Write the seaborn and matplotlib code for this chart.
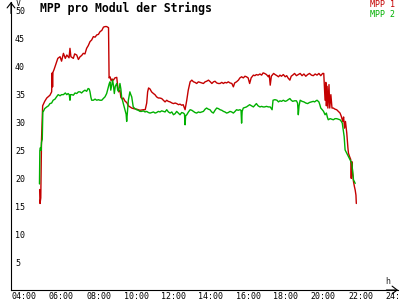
import matplotlib
matplotlib.use("Agg")
import matplotlib.pyplot as plt
import matplotlib.transforms as mtransforms
import seaborn as sns
import pandas as pd

# ---------------- data ----------------
red_h = [5.28, 5.30, 5.34, 5.38, 5.44, 5.55, 5.66, 5.83, 5.92, 5.95, 5.97, 5.99, 6.05, 6.16, 6.25,
         6.37, 6.45, 6.55, 6.65, 6.73, 6.85, 6.90, 6.95, 7.08, 7.15, 7.26, 7.35, 7.44, 7.52, 7.61,
         7.70, 7.79, 7.88, 7.97, 8.06, 8.15, 8.24, 8.33, 8.42, 8.51, 8.60, 8.69, 8.78, 8.86, 8.96,
         8.99, 9.04, 9.10, 9.15, 9.22, 9.30, 9.40, 9.45, 9.50, 9.57, 9.62, 9.70, 9.75, 9.85, 9.93,
         10.02, 10.11, 10.20, 10.30, 10.46, 10.64, 10.82, 10.92, 11.00, 11.05, 11.10, 11.18, 11.26,
         11.36, 11.44, 11.53, 11.62, 11.70, 11.80, 11.89, 11.98, 12.07, 12.15, 12.25, 12.35, 12.43,
         12.52, 12.60, 12.70, 12.78, 12.87, 12.95, 13.05, 13.10, 13.14, 13.22, 13.32, 13.41, 13.50,
         13.58, 13.67, 13.76, 13.85, 13.94, 14.03, 14.12, 14.20, 14.30, 14.40, 14.48, 14.57, 14.65,
         14.74, 14.83, 14.92, 15.01, 15.10, 15.18, 15.27, 15.36, 15.45, 15.55, 15.63, 15.70, 15.80,
         15.90, 15.98, 16.07, 16.16, 16.25, 16.33, 16.42, 16.50, 16.58, 16.70, 16.78, 16.86, 16.95,
         17.05, 17.14, 17.22, 17.30, 17.40, 17.50, 17.55, 17.60, 17.66, 17.78, 17.86, 17.96, 18.04,
         18.12, 18.20, 18.30, 18.40, 18.48, 18.55, 18.65, 18.72, 18.80, 18.90, 19.00, 19.10, 19.20,
         19.30, 19.40, 19.50, 19.60, 19.70, 19.80, 19.90, 20.00, 20.10, 20.20, 20.30, 20.40, 20.46,
         20.50, 20.53, 20.57, 20.60, 20.64, 20.68, 20.74, 20.78, 20.84, 20.90, 20.97, 21.06, 21.15,
         21.24, 21.33, 21.40, 21.47, 21.52, 21.57, 21.62, 21.69, 21.75, 21.78, 21.84, 21.90, 21.93,
         21.96, 22.00, 22.05, 22.10, 22.14, 22.18, 22.20]
red_v = [18.0, 15.5, 16.5, 27.0, 33.0, 33.8, 34.4, 34.9, 35.5, 38.9, 36.4, 39.0, 39.5, 40.6, 41.5,
         41.8, 41.0, 42.4, 41.5, 42.1, 41.6, 43.3, 41.8, 41.5, 42.3, 42.1, 41.3, 41.8, 42.0, 42.4,
         42.3, 43.3, 43.8, 44.5, 44.8, 45.4, 45.3, 45.7, 45.8, 46.3, 46.5, 47.1, 47.2, 47.2, 47.0,
         38.0, 38.2, 37.5, 37.8, 37.6, 38.0, 38.1, 36.5, 35.5, 35.8, 34.5, 34.2, 34.4, 33.8, 33.6,
         33.0, 32.8, 32.6, 32.5, 32.4, 32.2, 32.3, 32.3, 33.5, 35.5, 36.2, 36.0, 35.5,
         35.2, 35.0, 34.6, 34.4, 34.4, 34.3, 34.0, 33.7, 34.0, 33.8, 33.7, 33.5, 33.4,
         33.5, 33.4, 33.2, 33.3, 33.1, 33.2, 32.3, 33.2, 34.0, 35.8, 37.3, 37.6, 37.3,
         37.2, 37.0, 37.3, 37.2, 37.1, 37.0, 37.3, 37.4, 37.6, 37.3, 37.0, 37.3, 37.4,
         37.1, 37.0, 37.0, 37.2, 37.0, 37.2, 37.1, 37.3, 37.1, 37.0, 36.4, 37.1, 37.3,
         37.6, 38.0, 38.2, 38.0, 38.3, 38.2, 38.0, 37.0, 38.0, 38.5, 38.4, 38.6, 38.5,
         38.7, 38.5, 38.9, 38.8, 38.6, 38.2, 38.5, 36.7, 38.3, 38.8, 38.6, 38.4, 38.2,
         38.5, 38.3, 38.6, 38.2, 38.4, 38.0, 37.6, 38.3, 38.5, 38.8, 38.4, 38.6, 38.8,
         38.4, 38.7, 38.3, 38.6, 38.8, 38.5, 38.4, 38.7, 38.5, 38.8, 38.4, 38.8, 38.8,
         36.0, 34.0, 37.2, 33.0, 36.5, 32.6, 36.8, 32.6, 35.0, 32.6, 32.6, 32.4, 32.3,
         32.0, 31.7, 31.1, 30.2, 31.0, 29.0, 30.2, 28.1, 25.5, 24.5, 23.9, 23.4, 20.0,
         23.0, 21.0, 19.4, 18.5, 17.9, 17.0, 15.5]

green_h = [5.27, 5.29, 5.32, 5.35, 5.38, 5.42, 5.45, 5.48, 5.55, 5.66, 5.75, 5.83, 5.92, 6.00, 6.10,
           6.18, 6.27, 6.37, 6.45, 6.55, 6.65, 6.73, 6.80, 6.86, 6.90, 6.93, 7.00, 7.08, 7.17, 7.26,
           7.35, 7.44, 7.52, 7.61, 7.70, 7.79, 7.87, 7.93, 7.97, 8.02, 8.06, 8.15, 8.24, 8.33, 8.42,
           8.50, 8.60, 8.68, 8.77, 8.86, 8.95, 9.00, 9.04, 9.08, 9.13, 9.18, 9.22, 9.27, 9.32, 9.40,
           9.45, 9.50, 9.57, 9.62, 9.66, 9.75, 9.84, 9.90, 9.93, 9.97, 10.02, 10.10, 10.15, 10.20,
           10.28, 10.37, 10.46, 10.55, 10.64, 10.73, 10.82, 10.91, 11.00, 11.09, 11.18, 11.27, 11.36,
           11.45, 11.53, 11.62, 11.71, 11.80, 11.89, 11.98, 12.07, 12.16, 12.25, 12.34, 12.43, 12.52,
           12.60, 12.69, 12.78, 12.87, 12.96, 13.02, 13.05, 13.08, 13.14, 13.23, 13.32, 13.41, 13.50,
           13.58, 13.67, 13.76, 13.85, 13.94, 14.03, 14.12, 14.20, 14.29, 14.38, 14.47, 14.56, 14.65,
           14.74, 14.83, 14.92, 15.01, 15.10, 15.18, 15.27, 15.36, 15.45, 15.54, 15.63, 15.72, 15.80,
           15.89, 15.98, 16.04, 16.07, 16.10, 16.16, 16.24, 16.33, 16.42, 16.50, 16.60, 16.70, 16.78,
           16.86, 16.95, 17.05, 17.14, 17.22, 17.30, 17.40, 17.50, 17.60, 17.70, 17.75, 17.85, 17.96,
           18.04, 18.12, 18.20, 18.30, 18.40, 18.48, 18.56, 18.65, 18.72, 18.80, 18.90, 19.00, 19.06,
           19.10, 19.14, 19.20, 19.30, 19.40, 19.50, 19.60, 19.70, 19.80, 19.90, 19.97, 20.05, 20.10,
           20.20, 20.25, 20.30, 20.38, 20.45, 20.53, 20.60, 20.65, 20.70, 20.80, 20.88, 20.97, 21.06,
           21.15, 21.24, 21.33, 21.40, 21.45, 21.50, 21.55, 21.60, 21.69, 21.78, 21.87, 21.96, 22.01,
           22.05, 22.10, 22.14]
green_v = [19.0, 25.0, 25.5, 25.0, 26.5, 27.0, 32.0, 32.0, 32.5, 32.8, 33.0, 33.4, 33.5, 34.0, 34.2,
           34.6, 35.0, 34.8, 35.0, 35.0, 35.3, 35.0, 35.2, 35.0, 34.0, 35.0, 35.0, 34.9, 35.3, 35.2,
           35.5, 35.5, 35.3, 35.6, 35.8, 35.6, 36.1, 36.0, 35.5, 34.5, 34.0, 34.0, 34.2, 34.0, 34.1,
           34.0, 34.0, 34.3, 34.6, 35.2, 36.4, 37.0, 37.3, 35.8, 36.7, 37.6, 36.7, 35.2, 36.5, 37.0,
           35.8, 35.6, 37.0, 36.0, 34.6, 33.4, 32.3, 31.5, 30.2, 32.0, 34.0, 35.5, 35.0, 34.6,
           32.8, 32.5, 32.3, 32.2, 32.0, 32.0, 32.1, 31.9, 32.0, 31.8, 31.7, 31.8, 31.9,
           31.7, 31.8, 32.0, 31.9, 32.1, 32.0, 31.9, 32.3, 31.9, 31.7, 31.9, 31.4, 31.6,
           32.0, 31.7, 31.4, 31.8, 31.7, 31.5, 29.6, 31.2, 31.4, 31.9, 32.3, 32.2, 32.0,
           31.8, 31.7, 31.9, 31.8, 31.9, 32.0, 32.4, 32.6, 32.4, 32.3, 31.9, 31.7, 32.2,
           32.6, 32.5, 32.3, 32.2, 32.0, 31.9, 31.7, 31.8, 32.0, 31.9, 31.7, 32.0, 32.3,
           32.2, 32.3, 32.2, 29.9, 32.0, 32.6, 32.7, 32.8, 33.0, 33.2, 33.0, 32.8, 33.1,
           33.4, 33.0, 32.8, 32.9, 32.8, 32.8, 32.9, 32.8, 32.8, 32.3, 34.0, 34.1, 34.0,
           33.7, 33.9, 33.8, 34.0, 33.8, 33.9, 34.1, 34.3, 34.0, 33.8, 33.9, 33.9, 33.5,
           31.4, 33.0, 34.0, 33.8, 33.7, 33.5, 33.4, 33.6, 33.7, 33.8, 33.7, 33.9, 34.0,
           33.7, 33.2, 32.6, 32.3, 32.0, 31.4, 31.7, 31.0, 30.5, 30.7, 30.6, 30.5, 30.7,
           30.7, 30.6, 30.5, 30.2, 29.9, 28.7, 27.5, 25.1, 24.5, 23.9, 23.3, 22.7, 21.0,
           19.7, 19.4, 19.1]

series_names = ["MPP 1", "MPP 2"]
x_ticks = list(range(4, 25, 2))
x_tick_labels = [f"{h:02d}:00" for h in x_ticks]
y_ticks = list(range(5, 51, 5))
y_tick_labels = [str(v) for v in y_ticks]
title_text = "MPP pro Modul der Strings"

RED = "#c40000"
GREEN = "#00b000"

df = pd.concat([
    pd.DataFrame({"h": red_h, "v": red_v, "series": series_names[0]}),
    pd.DataFrame({"h": green_h, "v": green_v, "series": series_names[1]}),
], ignore_index=True)

# ---------------- figure ----------------
sns.set_style("white")
plt.rcParams["font.family"] = ["DejaVu Sans Mono", "DejaVu Sans"]

fig = plt.figure(figsize=(4, 3), dpi=100)
W, H = 400, 300
ax = fig.add_axes([11 / W, 10 / H, 387 / W, 288 / H])
ax.set_facecolor("white")

sns.lineplot(data=df, x="h", y="v", hue="series", hue_order=series_names,
             palette={series_names[0]: RED, series_names[1]: GREEN},
             estimator=None, sort=False, linewidth=1.0, ax=ax, legend=True)

ax.set_xlim(3.749, 24.427)
ax.set_ylim(0, 51.6)

for s in ["top", "right"]:
    ax.spines[s].set_visible(False)
for s in ["left", "bottom"]:
    ax.spines[s].set_color("black")
    ax.spines[s].set_linewidth(0.8)

ax.set_xticks(x_ticks)
ax.set_xticklabels(x_tick_labels)
ax.set_yticks(y_ticks)
ax.set_yticklabels(y_tick_labels)
ax.tick_params(direction="inout", length=4.3, width=0.75, colors="black", labelsize=6)
ax.tick_params(axis="x", pad=-0.7)
ax.tick_params(axis="y", pad=-5.0)

xoff = mtransforms.ScaledTranslation(-4.4 / 100, 0, fig.dpi_scale_trans)
for lbl in ax.get_xticklabels():
    lbl.set_horizontalalignment("left")
    lbl.set_transform(lbl.get_transform() + xoff)
for lbl in ax.get_yticklabels():
    lbl.set_horizontalalignment("left")

ax.set_xlabel("h", fontsize=6, rotation=0)
ax.xaxis.set_label_coords((388 - 11) / 387, (290 - 282) / 288)
ax.xaxis.label.set_va("center")
ax.xaxis.label.set_ha("center")
ax.set_ylabel("V", fontsize=6, rotation=0)
ax.yaxis.set_label_coords((18.5 - 11) / 387, (290 - 3.5) / 288)
ax.yaxis.label.set_va("center")
ax.yaxis.label.set_ha("center")

# axis arrow heads
arrow = dict(arrowstyle="->,head_length=0.45,head_width=0.35", lw=0.8, color="black",
             shrinkA=0, shrinkB=0, mutation_scale=8)
ax.annotate("", xy=(1.0, 0), xytext=(0.97, 0), xycoords="axes fraction",
            arrowprops=arrow, annotation_clip=False)
ax.annotate("", xy=(0, 1.0), xytext=(0, 0.96), xycoords="axes fraction",
            arrowprops=arrow, annotation_clip=False)

# legend (text only, coloured)
handles, labels = ax.get_legend_handles_labels()
leg = ax.legend(handles, labels, loc="upper right", bbox_to_anchor=(395 / W, 1.0),
                bbox_transform=fig.transFigure, frameon=False, fontsize=6,
                handlelength=0, handletextpad=0, borderpad=0, borderaxespad=0,
                labelspacing=0.15, labelcolor="linecolor")
for h in leg.legend_handles:
    h.set_visible(False)

fig.text(40 / W, 1 - 8 / H, title_text, fontsize=8.3, fontweight="bold",
         ha="left", va="center", color="black")

fig.savefig("out.png", dpi=100, facecolor="white")
